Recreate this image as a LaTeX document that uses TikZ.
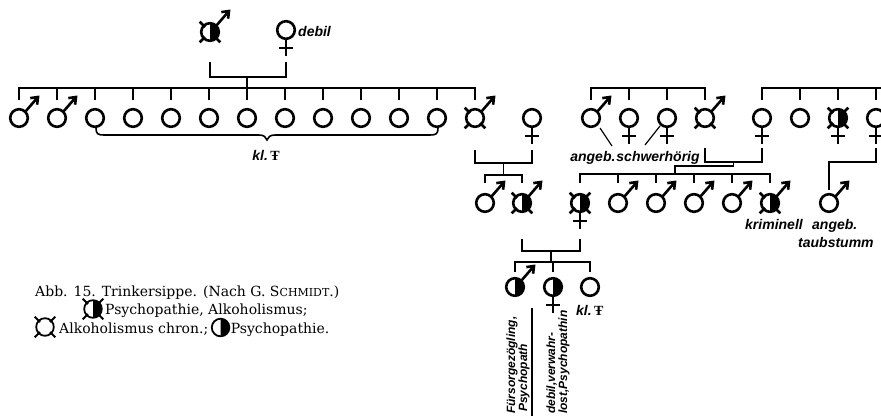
\documentclass[tikz,border=0pt]{standalone}
\usepackage{fontspec}
\setmainfont{DejaVu Serif}
\newfontfamily\lab{Liberation Sans}
\newfontfamily\crs{Liberation Serif}
\usetikzlibrary{calc}
\begin{document}
\begin{tikzpicture}[x=1pt,y=-1pt,
  sym/.style={line width=2.6pt},
  ped/.style={line width=1.6pt},
  lbl/.style={font=\lab\bfseries\itshape\fontsize{14}{15}\selectfont, inner sep=0pt},
  rlbl/.style={font=\lab\bfseries\itshape\fontsize{12}{13}\selectfont, inner sep=0pt, rotate=90, anchor=base west},
  leg/.style={font=\fontsize{14}{16}\selectfont, inner sep=0pt},
  pics/circ/.style={code={\draw[sym] (0,0) circle (8.8);}},
  pics/psy/.style={code={\begin{scope}\clip (0,-12) rectangle (12,12); \fill (0,0) circle (8.8);\end{scope}}},
  pics/marrow/.style={code={\draw[sym] (6.2,-6.2) -- (19,-21); \draw[sym,line join=miter] (11.3,-19.9) -- (19,-21) -- (18.1,-13.3);}},
  pics/fem/.style={code={\draw[sym] (0,8.8) -- (0,26); \draw[sym] (-7,18) -- (7,18);}},
  pics/alkthree/.style={code={\draw[sym] (-5,-5) -- (-10.3,-10.3) (-5,5) -- (-10.3,10.3) (5,5) -- (10.3,10.3);}},
  pics/alkfour/.style={code={\pic {alkthree}; \draw[sym] (5,-5) -- (10.3,-10.3);}},
  pics/male/.style={code={\pic {circ}; \pic {marrow};}},
  pics/female/.style={code={\pic {circ}; \pic {fem};}},
]
\useasboundingbox (0,0) rectangle (881,416);

% ---------- persons ----------
\coordinate (F0) at (210,32);
\coordinate (M0) at (286,30);
\foreach \i in {1,...,13} \coordinate (s\i) at ({19+38*(\i-1)},118);
\coordinate (w13) at (532,118);
\coordinate (g1) at (591,118); \coordinate (g2) at (629,118);
\coordinate (g3) at (667,118); \coordinate (g4) at (705,118);
\coordinate (h1) at (762,118); \coordinate (h2) at (800,118);
\coordinate (h3) at (838,118); \coordinate (h4) at (876,118);
\coordinate (c1) at (485,203); \coordinate (c2) at (522,203);
\foreach \i in {1,...,6} \coordinate (d\i) at ({580+38*(\i-1)},203);
\coordinate (e1) at (829,203);
\coordinate (k1) at (515,287); \coordinate (k2) at (553,287); \coordinate (k3) at (590,287);

% midpoints
\coordinate (m1) at ($(s13)!.5!(w13)$);
\coordinate (m2) at ($(c2)!.5!(d1)$);
\coordinate (m3) at ($(g4)!.5!(h1)$);
\coordinate (m4) at ($(d1)!.5!(d6)$);

% top couple
\pic at (F0) {psy}; \pic at (F0) {male}; \pic at (F0) {alkthree};
\pic at (M0) {female};
\node[lbl, anchor=base west] (tdebil) at (298,36) {debil};

% row 1
\pic at (s1) {male}; \pic at (s2) {male};
\foreach \i in {3,...,12} \pic at (s\i) {circ};
\pic at (s13) {male}; \pic at (s13) {alkthree};
\pic at (w13) {female};
\pic at (g1) {male}; \pic at (g2) {female}; \pic at (g3) {female};
\pic at (g4) {male}; \pic at (g4) {alkthree};
\pic at (h1) {female}; \pic at (h2) {circ};
\pic at (h3) {psy}; \pic at (h3) {female}; \pic at (h3) {alkfour};
\pic at (h4) {female};

% row 2
\pic at (c1) {male};
\pic at (c2) {psy}; \pic at (c2) {male}; \pic at (c2) {alkthree};
\pic at (d1) {psy}; \pic at (d1) {female}; \pic at (d1) {alkfour};
\foreach \i in {2,...,5} \pic at (d\i) {male};
\pic at (d6) {psy}; \pic at (d6) {male}; \pic at (d6) {alkthree};
\pic at (e1) {male};

% row 3
\pic at (k1) {psy}; \pic at (k1) {male};
\pic at (k2) {psy}; \pic at (k2) {female};
\pic at (k3) {circ};

% ---------- connectors ----------
\draw[ped] (F0 |- 0,62) -- (F0 |- 0,77) -- (M0 |- 0,77) -- (M0 |- 0,62);
\draw[ped] (s7 |- 0,77) -- (s7 |- 0,100);
\draw[ped] (s1 |- 0,100) -- (s1 |- 0,88) -- (s13 |- 0,88) -- (s13 |- 0,100);
\foreach \i in {2,...,12} \draw[ped] (s\i |- 0,88) -- (s\i |- 0,100);

\draw[ped] (s13 |- 0,150) -- (s13 |- 0,163) -- (w13 |- 0,163) -- (w13 |- 0,150);
\draw[ped] (m1 |- 0,163) -- (m1 |- 0,175);
\draw[ped] (c1 |- 0,183) -- (c1 |- 0,175) -- (c2 |- 0,175) -- (c2 |- 0,183);

\draw[ped] (c2 |- 0,239) -- (c2 |- 0,251) -- (d1 |- 0,251) -- (d1 |- 0,239);
\draw[ped] (m2 |- 0,251) -- (m2 |- 0,262);
\draw[ped] (k1 |- 0,272) -- (k1 |- 0,262) -- (k3 |- 0,262) -- (k3 |- 0,272);
\draw[ped] (k2 |- 0,262) -- (k2 |- 0,272);

\draw[ped] (g1 |- 0,100) -- (g1 |- 0,88) -- (g4 |- 0,88) -- (g4 |- 0,100);
\draw[ped] (g2 |- 0,88) -- (g2 |- 0,100);
\draw[ped] (g3 |- 0,88) -- (g3 |- 0,100);
\draw[ped] (h1 |- 0,100) -- (h1 |- 0,88) -- (881,88);
\foreach \p in {h2,h3,h4} \draw[ped] (\p |- 0,88) -- (\p |- 0,100);

\draw[ped] (g4 |- 0,148) -- (g4 |- 0,162) -- (h1 |- 0,162) -- (h1 |- 0,148);
\draw[ped] (m3 |- 0,162) -- (m3 |- 0,166) -- (m4 |- 0,166) -- (m4 |- 0,174);
\draw[ped] (d1 |- 0,183) -- (d1 |- 0,174) -- (d6 |- 0,174) -- (d6 |- 0,183);
\foreach \i in {2,...,5} \draw[ped] (d\i |- 0,174) -- (d\i |- 0,183);

\draw[ped] (h4 |- 0,148) -- (h4 |- 0,162) -- (e1 |- 0,162) -- (e1 |- 0,190);

% brace under the ten children
\draw[ped] (96,128) .. controls (96,134) and (98,135) .. (104,135) -- (259,135)
  .. controls (264,135) and (266,137) .. (267,140) .. controls (268,137) and (270,135) .. (275,135)
  -- (430,135) .. controls (436,135) and (438,134) .. (438,128);
\node[lbl, anchor=base] (tkl1) at (266,160) {kl.\,{\crs\bfseries\upshape Ŧ}};

% labels
\node[lbl, anchor=base] (tschw) at (635,161) {angeb.\kern1pt schwerhörig};
\draw[line width=1.2pt] ($(g1)+(9,10)$) -- ($(g1)+(21,28)$);
\draw[line width=1.2pt] ($(g3)+(-7,8)$) -- ($(g3)+(-22,27)$);
\node[lbl, anchor=base west] (tkrim) at (745,229) {kriminell};
\node[lbl, anchor=base west] (tang) at (812,229) {angeb.};
\node[lbl, anchor=base west] (ttaub) at (798,247) {taubstumm};
\node[lbl, anchor=base west] (tkl2) at (576,315) {kl.\,{\crs\bfseries\upshape Ŧ}};

\node[rlbl] (r1) at (515,414) {Fürsorgezögling,};
\node[rlbl] (r2) at (527,412) {Psychopath};
\draw[line width=2pt] (532,308) -- (532,416);
\node[rlbl] (r3) at (555,414) {debil,verwahr-};
\node[rlbl] (r4) at (567,414) {lost,Psychopathin};

% legend
\node[leg, anchor=base west] (cap1) at (35,296) {Abb. 15. Trinkersippe. (Nach G. S{\fontsize{11}{12}\selectfont CHMIDT}.)};
\begin{scope}[shift={(93,309)}, scale=0.62, sym/.style={line width=1.8pt}]
  \pic {psy}; \pic {circ}; \pic {alkfour};
\end{scope}
\node[leg, anchor=base west] (cap2) at (105,314) {Psychopathie, Alkoholismus;};
\begin{scope}[shift={(45,327)}, scale=0.62, sym/.style={line width=1.8pt}]
  \pic {circ}; \pic {alkfour};
\end{scope}
\node[leg, anchor=base west] (cap3) at (59,333) {Alkoholismus chron.;};
\coordinate (ps) at ($(cap3.base east)+(12,-5.5)$);
\begin{scope}[shift={(ps)}, scale=0.62, sym/.style={line width=1.8pt}]
  \pic {psy}; \pic {circ};
\end{scope}
\node[leg, anchor=base west] (cap4) at ($(cap3.base east)+(22,0)$) {Psychopathie.};
\end{tikzpicture}
\end{document}
